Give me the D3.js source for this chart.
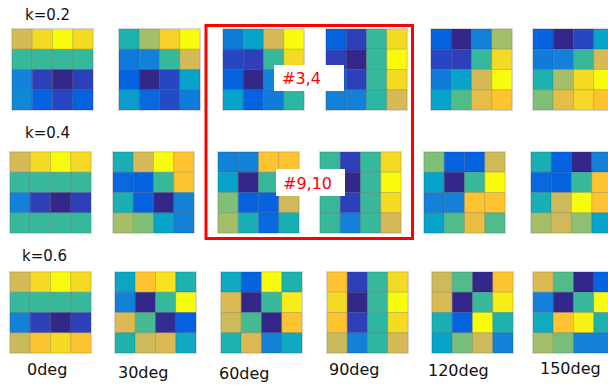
<!DOCTYPE html>
<html>
<head>
<meta charset="utf-8">
<script src="https://cdn.jsdelivr.net/npm/d3@7/dist/d3.min.js"></script>
<style>
  html, body { margin: 0; padding: 0; background: #fff; }
  svg { display: block; }
</style>
</head>
<body>
<svg id="chart" width="608" height="385"></svg>
<script>
// ---- data ----
const angles = ["0deg", "30deg", "60deg", "90deg", "120deg", "150deg"];
const kLabels = ["k=0.2", "k=0.4", "k=0.6"];
const marks = ["#3,4", "#9,10"];

// each panel: 4x4 values (row-major, top row first), normalised 0..1
const cellsK02 = [
  [0.78,0.93,1.00,0.93, 0.55,0.55,0.55,0.55, 0.30,0.10,0.00,0.10, 0.32,0.20,0.12,0.20],
  [0.50,0.70,0.90,1.00, 0.27,0.30,0.55,0.78, 0.20,0.00,0.12,0.40, 0.38,0.22,0.13,0.28],
  [0.28,0.40,0.78,1.00, 0.12,0.10,0.55,0.93, 0.20,0.00,0.30,0.93, 0.40,0.20,0.28,0.53],
  [0.20,0.10,0.55,0.93, 0.10,0.00,0.55,1.00, 0.20,0.10,0.55,0.93, 0.30,0.30,0.53,0.78],
  [0.20,0.00,0.30,0.70, 0.12,0.10,0.55,0.93, 0.28,0.40,0.78,1.00, 0.40,0.60,0.82,0.87],
  [0.20,0.00,0.12,0.40, 0.28,0.30,0.55,0.78, 0.50,0.70,0.93,1.00, 0.65,0.82,0.92,0.87]
];
const cellsK04 = [
  [0.78,0.93,1.00,0.93, 0.55,0.55,0.55,0.55, 0.30,0.10,0.00,0.10, 0.55,0.55,0.55,0.55],
  [0.48,0.78,1.00,0.87, 0.22,0.20,0.55,0.87, 0.48,0.20,0.00,0.30, 0.70,0.65,0.40,0.30],
  [0.30,0.30,0.87,0.87, 0.40,0.00,0.55,0.93, 0.65,0.20,0.20,0.76, 0.70,0.48,0.22,0.48],
  [0.55,0.10,0.55,0.93, 0.55,0.00,0.55,1.00, 0.55,0.10,0.55,0.93, 0.55,0.30,0.55,0.78],
  [0.65,0.20,0.20,0.76, 0.40,0.00,0.55,1.00, 0.30,0.30,0.87,0.87, 0.40,0.60,0.83,0.60],
  [0.48,0.20,0.00,0.30, 0.22,0.20,0.55,0.87, 0.48,0.76,1.00,0.87, 0.70,0.76,0.67,0.40]
];
const cellsK06 = [
  [0.78,0.93,1.00,0.93, 0.55,0.55,0.55,0.55, 0.30,0.10,0.00,0.10, 0.75,0.87,0.93,0.87],
  [0.42,0.87,0.95,0.50, 0.30,0.00,0.55,1.00, 0.80,0.58,0.02,0.20, 0.50,0.76,0.80,0.44],
  [0.44,0.20,1.00,0.50, 0.80,0.00,0.55,0.97, 0.76,0.58,0.00,0.87, 0.50,0.80,0.30,0.44],
  [0.87,0.10,0.55,0.93, 0.93,0.00,0.55,1.00, 0.87,0.10,0.53,0.93, 0.75,0.30,0.53,0.78],
  [0.76,0.60,0.00,0.87, 0.80,0.00,0.55,0.97, 0.48,0.20,1.00,0.50, 0.40,0.64,0.76,0.30],
  [0.80,0.60,0.00,0.20, 0.30,0.00,0.55,1.00, 0.45,0.87,0.98,0.50, 0.70,0.64,0.30,0.30]
];
const rows = [cellsK02, cellsK04, cellsK06];

// ---- parula-like colour scale ----
const stopPos = [0.00,0.10,0.20,0.30,0.40,0.50,0.55,0.60,0.65,0.70,0.75,0.80,0.87,0.93,1.00];
const stopCol = ["#33288a","#2e40b9","#0563e0","#1381d7","#07a3cb","#1db2ae","#38b89a",
                 "#52bb8b","#80bf77","#a5be6a","#cbba5c","#dcba53","#fdc331","#f5da24","#f8fb0e"];
const color = d3.scaleLinear().domain(stopPos).range(stopCol).interpolate(d3.interpolateRgb).clamp(true);

// ---- layout ----
const panelSize = 81;
const rowTop = [29, 152, 272];
const colLeft = [
  [12, 119, 223, 326, 431, 533],
  [10, 113, 218, 320, 424, 531],
  [10, 115, 221, 327, 432, 533]
];
const kLabelPos = [[25, 20], [25, 138], [22, 261]];
const degLabelPos = [[27, 375], [118, 378], [219, 379], [329, 375], [428, 376], [540, 374]];

const svg = d3.select("#chart");
const band = d3.scaleBand().domain(d3.range(4)).range([0, panelSize]);

rows.forEach((panels, ri) => {
  panels.forEach((vals, ci) => {
    const g = svg.append("g")
      .attr("transform", `translate(${colLeft[ri][ci]},${rowTop[ri]})`);
    g.selectAll("rect.cell")
      .data(vals.map((v, i) => ({v, r: Math.floor(i / 4), c: i % 4})))
      .join("rect")
      .attr("class", "cell")
      .attr("x", d => band(d.c))
      .attr("y", d => band(d.r))
      .attr("width", band.bandwidth())
      .attr("height", band.bandwidth())
      .attr("fill", d => color(d.v))
      .attr("stroke", "rgba(0,0,0,0.13)")
      .attr("stroke-width", 1);
    g.append("rect")
      .attr("x", -0.5).attr("y", -0.5)
      .attr("width", panelSize + 1).attr("height", panelSize + 1)
      .attr("fill", "none")
      .attr("stroke", "#d8d8d8")
      .attr("stroke-width", 1);
  });
});

// k labels
svg.selectAll("text.k")
  .data(kLabels)
  .join("text")
  .attr("class", "k")
  .attr("x", (d, i) => kLabelPos[i][0])
  .attr("y", (d, i) => kLabelPos[i][1])
  .attr("font-family", "DejaVu Sans, sans-serif")
  .attr("font-size", 15)
  .attr("fill", "#111")
  .text(d => d);

// angle labels
svg.selectAll("text.deg")
  .data(angles)
  .join("text")
  .attr("class", "deg")
  .attr("x", (d, i) => degLabelPos[i][0])
  .attr("y", (d, i) => degLabelPos[i][1])
  .attr("font-family", "DejaVu Sans, sans-serif")
  .attr("font-size", 16)
  .attr("fill", "#111")
  .text(d => d);

// red highlight box
svg.append("rect")
  .attr("x", 206).attr("y", 25.5)
  .attr("width", 206.5).attr("height", 213)
  .attr("fill", "none")
  .attr("stroke", "#f00")
  .attr("stroke-width", 3);

// annotation labels
const markBoxes = [[274, 65, 70, 26, 282, 84], [276, 169, 69, 27, 283, 189]];
marks.forEach((m, i) => {
  const b = markBoxes[i];
  svg.append("rect")
    .attr("x", b[0]).attr("y", b[1]).attr("width", b[2]).attr("height", b[3])
    .attr("fill", "#fff");
  svg.append("text")
    .attr("x", b[4]).attr("y", b[5])
    .attr("font-family", "DejaVu Sans, sans-serif")
    .attr("font-size", 16)
    .attr("fill", "#f00")
    .text(m);
});
</script>
</body>
</html>
